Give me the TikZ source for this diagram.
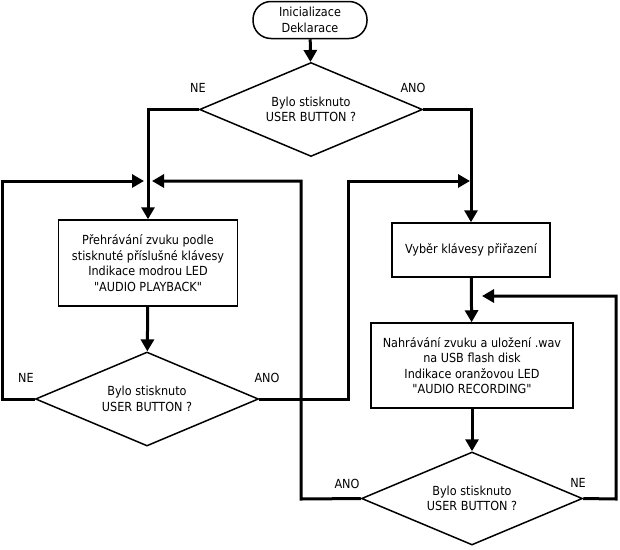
\documentclass[tikz,border=0pt]{standalone}
\usepackage{fontspec}
\setmainfont{DejaVu Sans Condensed}[Ligatures=TeXOff]
\usetikzlibrary{
  arrows.meta,
  positioning,
  shapes.geometric
}

\begin{document}
\begin{tikzpicture}[x=1pt, y=-1pt,
			txt/.style={font=\fontsize{12.5}{15.5}\selectfont, align=center},
			term/.style={txt, draw, line width=1.5pt, rounded corners=18pt,
				minimum width=114pt, minimum height=37pt, inner sep=0pt},
			proc/.style={txt, draw, line width=1.5pt, inner sep=0pt},
			dec/.style={txt, draw, line width=1.5pt, diamond, aspect=2.36,
				inner sep=0pt, minimum width=223pt, minimum height=94pt},
			lab/.style={font=\fontsize{12.5}{13}\selectfont},
			ln/.style={line width=3pt},
			arr/.style={ln, -{Triangle[length=12pt, width=13pt]}}
			]
			\useasboundingbox (0,0) rectangle (620,549);
			\node[term] (init) at (310,20) {Inicializace\\Deklarace};
			\node[dec]  (btn)  at (311,109.5) {Bylo stisknuto\\USER BUTTON ?};
			\node[proc, minimum width=179pt, minimum height=86pt] (play) at (148,263)
			{Přehrávání zvuku podle\\stisknuté příslušné klávesy\\
				Indikace modrou LED\\"AUDIO PLAYBACK"};
			\node[dec]  (btnP) at (147,399) {Bylo stisknuto\\USER BUTTON ?};
			\node[proc, minimum width=158pt, minimum height=54pt] (sel) at (471,250)
			{Vyběr klávesy přiřazení};
			\node[proc, minimum width=202pt, minimum height=85pt] (rec) at (472,365.5)
			{Nahrávání zvuku a uložení .wav\\na USB flash disk\\
				Indikace oranžovou LED\\"AUDIO RECORDING"};
			\node[dec, minimum width=221pt, minimum height=93pt] (btnR) at (472,498.5)
			{Bylo stisknuto\\USER BUTTON ?};
			\node[lab] (ne1)  at (198,88)  {NE};
			\node[lab] (ano1) at (413,88)  {ANO};
			\node[lab] (ne2)  at (26,378)  {NE};
			\node[lab] (ano2) at (267,378) {ANO};
			\node[lab] (ano3) at (347,484) {ANO};
			\node[lab] (ne3)  at (578,483) {NE};
			\coordinate (nL) at (2,399);   \coordinate (aL) at (144,181);
			\coordinate (yL) at (348,399); \coordinate (aR) at (470,181);
			\coordinate (yR) at (301,499); \coordinate (aM) at (152,181);
			\coordinate (nR) at (616,499); \coordinate (aN) at (482,296);
			\draw[arr] (init)--(btn); \draw[arr] (play)--(btnP);
			\draw[arr] (sel)--(rec); \draw[arr] (rec)--(btnR);
			\draw[arr] (btn.west) -| (play.north); \draw[arr] (btn.east) -| (sel.north);
			\draw[arr] (btnP.west) -- (nL) |- (aL);
			\draw[arr] (btnP.east) -- (yL) |- (aR);
			\draw[arr] (btnR.west) -- (yR) |- (aM);
			\draw[arr] (btnR.east) -- (nR) |- (aN);
	\end{tikzpicture}
\end{document}
